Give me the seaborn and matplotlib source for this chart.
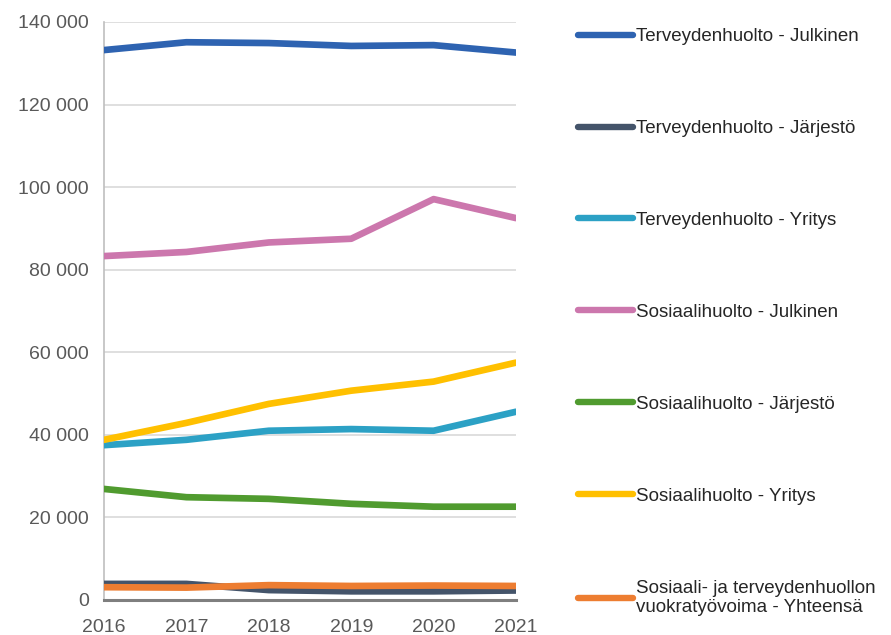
import matplotlib
matplotlib.use("Agg")
import matplotlib.pyplot as plt
import seaborn as sns
import pandas as pd
from matplotlib.ticker import FuncFormatter

years = [2016, 2017, 2018, 2019, 2020, 2021]
series_names = [
    "Terveydenhuolto - Julkinen",
    "Terveydenhuolto - Järjestö",
    "Terveydenhuolto - Yritys",
    "Sosiaalihuolto - Julkinen",
    "Sosiaalihuolto - Järjestö",
    "Sosiaalihuolto - Yritys",
    "Sosiaali- ja terveydenhuollon\nvuokratyövoima - Yhteensä",
]
terv_julkinen = [133200, 135100, 134900, 134200, 134400, 132600]
terv_jarjesto = [3900, 3900, 2400, 2100, 2100, 2300]
terv_yritys = [37500, 38800, 41000, 41400, 41000, 45600]
sos_julkinen = [83300, 84300, 86600, 87500, 97100, 92500]
sos_jarjesto = [26900, 24900, 24500, 23300, 22600, 22600]
sos_yritys = [38800, 42900, 47500, 50700, 52900, 57500]
vuokra = [3100, 3000, 3600, 3400, 3500, 3400]
colors = ["#2E63B1", "#44546A", "#2CA1C5", "#CC77AD", "#509B2F", "#FFC000", "#ED7D31"]

all_vals = [terv_julkinen, terv_jarjesto, terv_yritys, sos_julkinen,
            sos_jarjesto, sos_yritys, vuokra]
rows = []
for name, vals in zip(series_names, all_vals):
    for y, v in zip(years, vals):
        rows.append({"Vuosi": y, "Arvo": v, "Sarja": name})
df = pd.DataFrame(rows)

sns.set_style("white")
plt.rcParams['font.family'] = ['Liberation Sans', 'DejaVu Sans']

fig = plt.figure(figsize=(8.91, 6.35), dpi=100)
ax = fig.add_axes([104/891, 35/635, (516-104)/891, (600-22)/635])

sns.lineplot(data=df, x="Vuosi", y="Arvo", hue="Sarja", hue_order=series_names,
             palette=colors, linewidth=4.8, ax=ax, legend=False, zorder=3)

ax.set_xlim(2016, 2021)
ax.set_ylim(0, 140000)
ax.set_yticks(range(0, 140001, 20000))
ax.set_xticks(years)
ax.yaxis.set_major_formatter(FuncFormatter(lambda v, p: f"{int(v):,}".replace(",", " ")))
ax.grid(axis="y", color="#D9D9D9", linewidth=1.2, zorder=0)
ax.set_axisbelow(True)
ax.set_xlabel("")
ax.set_ylabel("")
for s in ["top", "right"]:
    ax.spines[s].set_visible(False)
ax.spines["left"].set_color("#BFBFBF")
ax.spines["left"].set_linewidth(1.2)
ax.spines["bottom"].set_color("#7F7F7F")
ax.spines["bottom"].set_linewidth(2.2)
ax.tick_params(axis="both", length=0, labelsize=14, labelcolor="#595959")
ax.tick_params(axis="y", pad=11)
ax.tick_params(axis="x", pad=14)

handles = [plt.Line2D([0], [0], color=c, lw=4.6, solid_capstyle="round") for c in colors]
fig.legend(handles, series_names, loc="upper left", bbox_to_anchor=(578/891, 1 - 28/635),
           frameon=False, fontsize=13.5, handlelength=2.95, handletextpad=0.12,
           labelspacing=3.99, borderaxespad=0, borderpad=0)

fig.savefig("out.png", dpi=100)
